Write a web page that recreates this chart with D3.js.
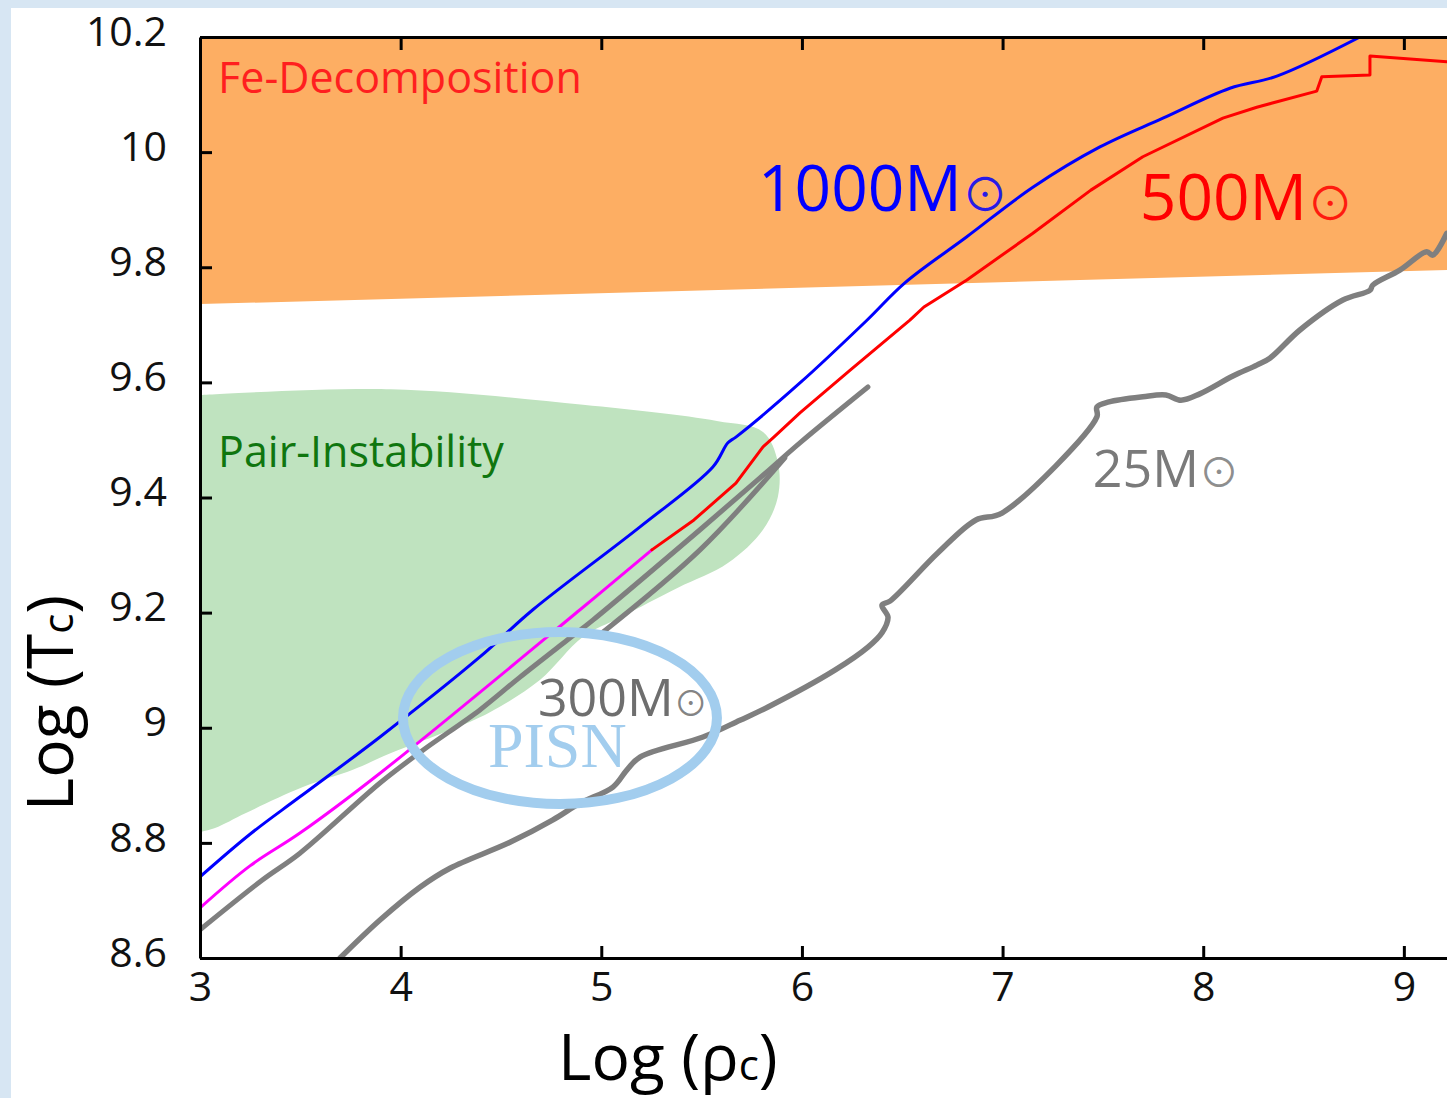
<!DOCTYPE html>
<html><head><meta charset="utf-8">
<script src="https://cdn.jsdelivr.net/npm/d3@7"></script>
<style>html,body{margin:0;padding:0;background:#d7e6f3;} svg{display:block}</style>
</head><body>
<svg id="chart" width="1447" height="1098"></svg>
<script>
// ---------- data ----------
const xTicks = [3, 4, 5, 6, 7, 8, 9];
const xTickLabels = ["3", "4", "5", "6", "7", "8", "9"];
const yTicks = [8.6, 8.8, 9, 9.2, 9.4, 9.6, 9.8, 10, 10.2];
const yTickLabels = ["8.6", "8.8", "9", "9.2", "9.4", "9.6", "9.8", "10", "10.2"];

// Fe-decomposition region (log rho, log T)
const feRegion = [[2.9, 10.3], [9.3, 10.3], [9.3, 9.796], [2.9, 9.735]];
// Pair-instability region boundary
const pairRegion = [[3, 9.578], [3.952, 9.588], [4.909, 9.561], [5.576, 9.533], [5.806, 9.514],
  [5.880, 9.462], [5.880, 9.401], [5.806, 9.344], [5.631, 9.286], [5.382, 9.243], [5.098, 9.192],
  [4.909, 9.158], [4.694, 9.083], [4.445, 9.027], [4.246, 8.996], [3.952, 8.956], [3.762, 8.927],
  [3.513, 8.897], [3.229, 8.852], [3.075, 8.826], [3, 8.819]];

// Evolutionary tracks
const track1000 = [[3, 8.741], [3.249, 8.815], [3.498, 8.880], [3.897, 8.984], [4.395, 9.123],
  [4.659, 9.205], [5.193, 9.349], [5.556, 9.453], [5.631, 9.495], [5.671, 9.505], [5.990, 9.599],
  [6.324, 9.708], [6.513, 9.773], [6.822, 9.853], [7.151, 9.939], [7.485, 10.009], [7.799, 10.059],
  [8.133, 10.111], [8.367, 10.132], [8.781, 10.2]];
const track500Low = [[3, 8.687], [3.249, 8.760], [3.498, 8.817], [3.897, 8.921], [4.894, 9.205], [5.252, 9.309]];
const track500High = [[5.252, 9.309], [5.462, 9.361], [5.671, 9.425], [5.806, 9.488], [5.860, 9.505],
  [5.990, 9.547], [6.239, 9.621], [6.538, 9.708], [6.608, 9.731], [6.822, 9.778], [7.151, 9.859],
  [7.440, 9.934], [7.699, 9.992], [8.098, 10.059], [8.267, 10.078], [8.566, 10.106], [8.591, 10.131],
  [8.831, 10.134], [8.831, 10.167], [9.214, 10.157]];
const track300 = [[3, 8.649], [3.309, 8.735], [3.498, 8.782], [3.897, 8.904], [4.111, 8.961],
  [4.395, 9.031], [4.595, 9.088], [4.829, 9.152], [4.958, 9.187], [5.492, 9.344], [5.791, 9.434],
  [5.990, 9.495], [6.329, 9.592]];
const track300Loop = [[5.008, 9.166], [5.492, 9.309], [5.915, 9.469]];
const track25 = [[3.698, 8.600], [3.897, 8.666], [4.096, 8.723], [4.246, 8.756], [4.545, 8.801],
  [4.759, 8.840], [4.894, 8.869], [5.058, 8.897], [5.128, 8.927], [5.193, 8.949], [5.507, 8.984],
  [5.691, 9.013], [5.831, 9.036], [6.164, 9.100], [6.329, 9.140], [6.399, 9.165], [6.429, 9.192],
  [6.399, 9.213], [6.439, 9.220], [6.678, 9.304], [6.867, 9.361], [6.997, 9.373], [7.470, 9.540],
  [7.470, 9.557], [7.530, 9.566], [7.699, 9.575], [7.814, 9.578], [7.889, 9.569], [7.983, 9.580],
  [8.148, 9.611], [8.267, 9.630], [8.332, 9.642], [8.482, 9.691], [8.696, 9.743], [8.831, 9.760],
  [8.845, 9.769], [8.980, 9.795], [9.114, 9.827], [9.144, 9.821], [9.214, 9.859]];

// Text annotations (position in data units)
const regionLabels = [
  {text: "Fe-Decomposition", x: 3.090, y: 10.103, kind: "fe"},
  {text: "Pair-Instability", x: 3.090, y: 9.453, kind: "pair"}
];
const massLabels = [
  {mass: "1000M", x: 5.781, y: 9.898, kind: "m1000"},
  {mass: "500M", x: 7.684, y: 9.882, kind: "m500"},
  {mass: "300M", x: 4.684, y: 9.020, kind: "m300"},
  {mass: "25M", x: 7.450, y: 9.418, kind: "m25"}
];
const pisnCenter = [4.794, 9.017];
const pisnText = {text: "PISN", x: 4.435, y: 8.931};

// ---------- drawing ----------
const W = 1447, H = 1098;
const svg = d3.select("#chart");
const FONT = "'Open Sans', 'Noto Sans', sans-serif";

svg.append("rect").attr("width", W).attr("height", H).attr("fill", "#d7e6f3");
svg.append("rect").attr("x", 11).attr("y", 8).attr("width", W - 11).attr("height", H - 8).attr("fill", "#ffffff");

const x = d3.scaleLinear().domain([3, 9.215]).range([200, 1447]);
const y = d3.scaleLinear().domain([8.6, 10.2]).range([958, 37]);

svg.append("defs").append("clipPath").attr("id", "plotclip")
  .append("rect").attr("x", 200).attr("y", 37).attr("width", 1447 - 200).attr("height", 958 - 37);

const plot = svg.append("g").attr("clip-path", "url(#plotclip)");

const lin = d3.line().x(d => x(d[0])).y(d => y(d[1]));
const smooth = d3.line().x(d => x(d[0])).y(d => y(d[1])).curve(d3.curveCatmullRom.alpha(0.5));

plot.append("path").attr("d", lin(feRegion) + "Z").attr("fill", "#fdae63");
plot.append("path").attr("d", smooth(pairRegion) + "Z").attr("fill", "#bfe3bf");

const lineStyle = [
  {data: track25, color: "#7f7f7f", w: 5.5, curve: smooth},
  {data: track300, color: "#7f7f7f", w: 5, curve: smooth},
  {data: track300Loop, color: "#7f7f7f", w: 5, curve: smooth},
  {data: track500Low, color: "#ff00ff", w: 3, curve: smooth},
  {data: track500High, color: "#ff0000", w: 3, curve: lin},
  {data: track1000, color: "#0000ff", w: 3, curve: smooth}
];
lineStyle.forEach(s => {
  plot.append("path").attr("d", s.curve(s.data)).attr("fill", "none")
    .attr("stroke", s.color).attr("stroke-width", s.w)
    .attr("stroke-linejoin", "round").attr("stroke-linecap", "round");
});

// PISN ellipse
plot.append("ellipse").attr("cx", x(pisnCenter[0])).attr("cy", y(pisnCenter[1]))
  .attr("rx", 157).attr("ry", 86).attr("fill", "none")
  .attr("stroke", "#a2cdee").attr("stroke-width", 10);
plot.append("text").attr("x", x(pisnText.x)).attr("y", y(pisnText.y))
  .attr("font-family", "'Liberation Serif', 'DejaVu Serif', serif").attr("font-size", 64)
  .attr("fill", "#a2cdee").text(pisnText.text);

// region labels
const regionStyle = {fe: {color: "#ff1f1f", size: 43}, pair: {color: "#0f760f", size: 43}};
regionLabels.forEach(l => {
  svg.append("text").attr("x", x(l.x)).attr("y", y(l.y))
    .attr("font-family", FONT).attr("font-size", regionStyle[l.kind].size)
    .attr("fill", regionStyle[l.kind].color).text(l.text);
});

// mass labels
const massStyle = {
  m1000: {color: "#0000ff", size: 64, sun: 46},
  m500: {color: "#ff0000", size: 64, sun: 46},
  m300: {color: "#6e6e6e", size: 52, sun: 34},
  m25: {color: "#7a7a7a", size: 52, sun: 40}
};
massLabels.forEach(l => {
  const st = massStyle[l.kind];
  const t = svg.append("text").attr("x", x(l.x)).attr("y", y(l.y))
    .attr("font-family", FONT).attr("font-size", st.size).attr("fill", st.color);
  t.append("tspan").text(l.mass);
  t.append("tspan").attr("font-size", st.sun)
    .attr("font-family", "'Noto Sans CJK JP', 'DejaVu Sans', sans-serif")
    .attr("fill-opacity", 0.85).text("⊙");
});

// ---------- axes ----------
const axisG = svg.append("g");
const yAxis = d3.axisLeft(y).tickValues(yTicks).tickFormat((d, i) => yTickLabels[i])
  .tickSizeInner(-12).tickSizeOuter(0).tickPadding(33);
const xAxis = d3.axisBottom(x).tickValues(xTicks).tickFormat((d, i) => xTickLabels[i])
  .tickSizeInner(-12).tickSizeOuter(0).tickPadding(14);
const topAxis = d3.axisTop(x).tickValues(xTicks.slice(1)).tickFormat("")
  .tickSizeInner(-13).tickSizeOuter(0);

const gy = axisG.append("g").attr("transform", "translate(200,0)").call(yAxis);
const gx = axisG.append("g").attr("transform", "translate(0,958)").call(xAxis);
const gt = axisG.append("g").attr("transform", "translate(0,37)").call(topAxis);

[gy, gx, gt].forEach(g => {
  g.select(".domain").attr("stroke", "#000").attr("stroke-width", 3);
  g.selectAll(".tick line").attr("stroke", "#000").attr("stroke-width", 3);
  g.selectAll(".tick text").attr("font-family", FONT).attr("font-size", 41).attr("fill", "#111");
});
gy.selectAll(".tick text").attr("dy", "0.2em");
gx.selectAll(".tick text").attr("dy", "0.71em");

// axis titles
const xt = svg.append("text").attr("x", 558).attr("y", 1080)
  .attr("font-family", FONT).attr("font-size", 64).attr("fill", "#000");
xt.append("tspan").text("Log (ρ");
xt.append("tspan").attr("font-size", 42).text("c");
xt.append("tspan").text(")");

const yt = svg.append("text").attr("transform", "translate(73,703) rotate(-90)")
  .attr("text-anchor", "middle")
  .attr("font-family", FONT).attr("font-size", 64).attr("fill", "#000");
yt.append("tspan").text("Log (T");
yt.append("tspan").attr("font-size", 42).text("c");
yt.append("tspan").text(")");
</script>
</body></html>
